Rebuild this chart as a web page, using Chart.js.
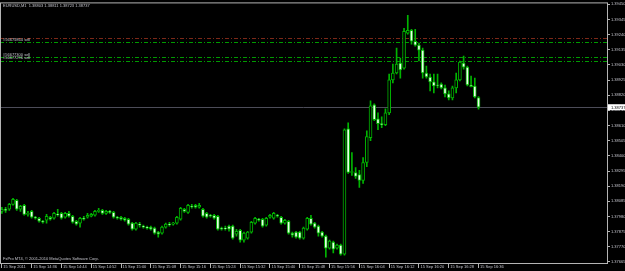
<!DOCTYPE html>
<html>
<head>
<meta charset="utf-8">
<script src="https://cdn.jsdelivr.net/npm/chart.js@4.4.0/dist/chart.umd.min.js"></script>
<style>
html, body { margin: 0; padding: 0; background: #000; }
canvas { display: block; }
</style>
</head>
<body>
<canvas id="chart-ctx" width="625" height="271"></canvas>
<script>
const symbolTitle = "EURUSD,M1  1.38803 1.38811 1.38723 1.38737";
const copyrightText = "FxPro MT4, \u00a9 2001-2010 MetaQuotes Software Corp.";

// one label every 8 bars (M1)
const timeLabels = [
    "15 Sep 2011", "15 Sep 14:36", "15 Sep 14:44", "15 Sep 14:52", "15 Sep 15:00",
    "15 Sep 15:08", "15 Sep 15:16", "15 Sep 15:24", "15 Sep 15:32", "15 Sep 15:40",
    "15 Sep 15:48", "15 Sep 15:56", "15 Sep 16:04", "15 Sep 16:12", "15 Sep 16:20",
    "15 Sep 16:28", "15 Sep 16:36"
];
const slotCount = 163;

const opens = [
    1.38016, 1.38030, 1.38030, 1.38064, 1.38092, 1.38030, 1.38058, 1.37995, 1.38016, 1.37975,
    1.37968, 1.37947, 1.37954, 1.37975, 1.37968, 1.37995, 1.38002, 1.37975, 1.38002, 1.37982,
    1.37947, 1.37934, 1.37968, 1.37975, 1.37982, 1.37989, 1.38016, 1.38023, 1.38002, 1.38016,
    1.38009, 1.37975, 1.37975, 1.37968, 1.37961, 1.37934, 1.37892, 1.37927, 1.37913, 1.37906,
    1.37906, 1.37899, 1.37872, 1.37865, 1.37906, 1.37927, 1.37927, 1.37934, 1.37961, 1.38030,
    1.38009, 1.38051, 1.38058, 1.38044, 1.38030, 1.38002, 1.37989, 1.37989, 1.37982, 1.37899,
    1.37899, 1.37913, 1.37913, 1.37858, 1.37885, 1.37816, 1.37830, 1.37872, 1.37934, 1.37961,
    1.37961, 1.37920, 1.37975, 1.37968, 1.37989, 1.37975, 1.37934, 1.37947, 1.37865, 1.37872,
    1.37872, 1.37830, 1.37892, 1.37968, 1.37934, 1.37913, 1.37872, 1.37844, 1.37761, 1.37803,
    1.37761, 1.37782, 1.37720, 1.38588, 1.38285, 1.38285, 1.38271, 1.38230, 1.38354, 1.38526,
    1.38753, 1.38657, 1.38623, 1.38616, 1.38698, 1.38926, 1.38974, 1.39043, 1.39008, 1.39250,
    1.39270, 1.39194, 1.39167, 1.39132, 1.38974, 1.38946, 1.38912, 1.38891, 1.38898, 1.38871,
    1.38829, 1.38802, 1.38871, 1.38926, 1.39043, 1.39015, 1.38891, 1.38884, 1.38803
];
const highs = [
    1.38044, 1.38044, 1.38071, 1.38106, 1.38099, 1.38058, 1.38064, 1.38016, 1.38023, 1.37982,
    1.37975, 1.37954, 1.37995, 1.37982, 1.38009, 1.38030, 1.38009, 1.38009, 1.38016, 1.37989,
    1.37954, 1.37975, 1.37982, 1.38002, 1.38002, 1.38023, 1.38037, 1.38030, 1.38023, 1.38023,
    1.38016, 1.37982, 1.37982, 1.37975, 1.37968, 1.37940, 1.37940, 1.37940, 1.37920, 1.37913,
    1.37913, 1.37906, 1.37878, 1.37913, 1.37934, 1.37940, 1.37940, 1.37982, 1.38044, 1.38037,
    1.38064, 1.38064, 1.38064, 1.38071, 1.38037, 1.38009, 1.37995, 1.37995, 1.37989, 1.37906,
    1.37913, 1.37920, 1.37920, 1.37892, 1.37892, 1.37872, 1.37878, 1.37947, 1.37975, 1.37968,
    1.37968, 1.37975, 1.37995, 1.38009, 1.37995, 1.37982, 1.37961, 1.37954, 1.37872, 1.37878,
    1.37878, 1.37906, 1.37975, 1.37989, 1.37940, 1.37920, 1.37878, 1.37851, 1.37816, 1.37810,
    1.37789, 1.37789, 1.38588, 1.38629, 1.38423, 1.38319, 1.38299, 1.38388, 1.38574, 1.38781,
    1.38760, 1.38698, 1.38671, 1.38726, 1.38967, 1.39036, 1.39146, 1.39077, 1.39284, 1.39374,
    1.39277, 1.39277, 1.39181, 1.39146, 1.39022, 1.38967, 1.38967, 1.38967, 1.38905, 1.38891,
    1.38850, 1.38884, 1.38974, 1.39057, 1.39091, 1.39022, 1.38953, 1.38939, 1.38811
];
const lows = [
    1.38002, 1.38009, 1.38023, 1.38058, 1.38023, 1.38016, 1.37989, 1.37982, 1.37968, 1.37961,
    1.37940, 1.37934, 1.37934, 1.37954, 1.37961, 1.37982, 1.37961, 1.37968, 1.37975, 1.37934,
    1.37920, 1.37906, 1.37954, 1.37968, 1.37978, 1.37982, 1.38009, 1.37995, 1.37995, 1.38002,
    1.37968, 1.37961, 1.37954, 1.37947, 1.37920, 1.37885, 1.37885, 1.37906, 1.37899, 1.37892,
    1.37885, 1.37858, 1.37837, 1.37858, 1.37899, 1.37913, 1.37920, 1.37927, 1.37954, 1.38009,
    1.38002, 1.38037, 1.38037, 1.38037, 1.37975, 1.37968, 1.37975, 1.37961, 1.37885, 1.37885,
    1.37885, 1.37878, 1.37823, 1.37844, 1.37803, 1.37803, 1.37823, 1.37865, 1.37927, 1.37947,
    1.37906, 1.37913, 1.37968, 1.37961, 1.37975, 1.37927, 1.37927, 1.37858, 1.37837, 1.37830,
    1.37823, 1.37823, 1.37885, 1.37920, 1.37899, 1.37844, 1.37837, 1.37699, 1.37754, 1.37727,
    1.37754, 1.37713, 1.37713, 1.38278, 1.38264, 1.38244, 1.38182, 1.38209, 1.38326, 1.38505,
    1.38643, 1.38581, 1.38595, 1.38609, 1.38685, 1.38905, 1.38967, 1.38939, 1.39001, 1.39243,
    1.39174, 1.39160, 1.39057, 1.38939, 1.38939, 1.38850, 1.38836, 1.38871, 1.38864, 1.38809,
    1.38788, 1.38788, 1.38836, 1.38919, 1.39001, 1.38884, 1.38877, 1.38802, 1.38723
];
const closes = [
    1.38030, 1.38023, 1.38064, 1.38099, 1.38030, 1.38051, 1.37995, 1.38002, 1.37975, 1.37968,
    1.37947, 1.37940, 1.37982, 1.37961, 1.38002, 1.37992, 1.37968, 1.38002, 1.37982, 1.37940,
    1.37927, 1.37968, 1.37961, 1.37989, 1.37995, 1.38016, 1.38023, 1.38002, 1.38016, 1.38009,
    1.37975, 1.37968, 1.37961, 1.37954, 1.37927, 1.37892, 1.37934, 1.37920, 1.37906, 1.37899,
    1.37892, 1.37865, 1.37858, 1.37906, 1.37927, 1.37924, 1.37934, 1.37975, 1.38037, 1.38016,
    1.38058, 1.38048, 1.38044, 1.38058, 1.37982, 1.37975, 1.37982, 1.37968, 1.37892, 1.37892,
    1.37896, 1.37892, 1.37830, 1.37878, 1.37816, 1.37865, 1.37872, 1.37940, 1.37968, 1.37954,
    1.37913, 1.37968, 1.37989, 1.38002, 1.37982, 1.37934, 1.37954, 1.37865, 1.37851, 1.37837,
    1.37830, 1.37899, 1.37968, 1.37927, 1.37906, 1.37865, 1.37844, 1.37761, 1.37810, 1.37754,
    1.37782, 1.37720, 1.38581, 1.38285, 1.38292, 1.38257, 1.38230, 1.38354, 1.38533, 1.38747,
    1.38650, 1.38623, 1.38616, 1.38698, 1.38926, 1.38974, 1.39036, 1.38995, 1.39263, 1.39270,
    1.39194, 1.39167, 1.39132, 1.38974, 1.38946, 1.38912, 1.38884, 1.38888, 1.38871, 1.38829,
    1.38802, 1.38871, 1.38926, 1.39050, 1.39015, 1.38891, 1.38880, 1.38809, 1.38737
];

const priceTicks = [
    1.37665, 1.37770, 1.37875, 1.37980, 1.38085, 1.38190, 1.38295, 1.38400, 1.38505,
    1.38610, 1.38715, 1.38820, 1.38925, 1.39030, 1.39135, 1.39240, 1.39345, 1.39450
];
const bidPrice = 1.38737;
const stopLevels = [1.39217];
const orderLevels = [1.39188, 1.39084, 1.39060];
const orderNames = ["#56675864 sell", "#56677300 sell", "#56677296 sell"];

const candleGreen = "#00b400";
const bearFill = "#e8ffe8";
const textGray = "#c4c4cc";
const frameGray = "#b4b4b4";
const tinyFont = { family: "Liberation Sans", size: 4 };
const tinyCss = "4px 'Liberation Sans'";

const mtOverlay = {
    id: "mtOverlay",
    beforeDraw(chart) {
        const c = chart.ctx;
        c.save();
        c.fillStyle = "#000000";
        c.fillRect(0, 0, chart.width, chart.height);
        c.restore();
    },
    beforeDatasetsDraw(chart) {
        const c = chart.ctx;
        const area = chart.chartArea;
        const y = chart.scales.y;
        c.save();
        c.lineWidth = 1;
        c.setLineDash([4, 2, 1, 2]);
        stopLevels.forEach((v) => {
            const py = Math.round(y.getPixelForValue(v)) + 0.5;
            c.strokeStyle = "#7c2818";
            c.beginPath(); c.moveTo(area.left, py); c.lineTo(area.right, py); c.stroke();
        });
        orderLevels.forEach((v) => {
            const py = Math.round(y.getPixelForValue(v)) + 0.5;
            c.strokeStyle = "#009a00";
            c.beginPath(); c.moveTo(area.left, py); c.lineTo(area.right, py); c.stroke();
        });
        c.setLineDash([]);
        const by = Math.round(y.getPixelForValue(bidPrice)) + 0.5;
        c.strokeStyle = "#4c4c58";
        c.beginPath(); c.moveTo(area.left, by); c.lineTo(area.right, by); c.stroke();

        c.font = tinyCss;
        c.fillStyle = textGray;
        c.textBaseline = "bottom";
        orderLevels.forEach((v, k) => {
            const py = y.getPixelForValue(v);
            c.fillText(orderNames[k], 3, py - 0.5);
        });
        c.restore();
    },
    afterDraw(chart) {
        const c = chart.ctx;
        const area = chart.chartArea;
        const y = chart.scales.y;
        c.save();
        c.strokeStyle = frameGray;
        c.lineWidth = 1;
        c.strokeRect(area.left + 0.5, area.top - 0.5, area.right - area.left, area.bottom - area.top + 1);

        c.font = tinyCss;
        c.fillStyle = textGray;
        c.textBaseline = "middle";
        c.fillText(symbolTitle, 3, 5.5);
        c.fillText(copyrightText, 3, 258.5);

        const by = y.getPixelForValue(bidPrice);
        c.fillStyle = "#ffffff";
        c.fillRect(area.right + 1, by - 3, 20, 6);
        c.fillStyle = "#000000";
        c.fillText(bidPrice.toFixed(5), area.right + 4, by + 0.3);
        c.restore();
    }
};

const wickData = lows.map((low, i) => [low, highs[i]]);
const bodyData = opens.map((open, i) => [open, closes[i]]);
const slots = Array.from({ length: slotCount }, (_, i) => i);

const ctx = document.getElementById("chart-ctx");

new Chart(ctx, {
    type: "bar",
    data: {
        labels: slots,
        datasets: [
            {
                label: "body",
                data: bodyData,
                backgroundColor: (c) => closes[c.dataIndex] >= opens[c.dataIndex] ? "#000000" : bearFill,
                borderColor: candleGreen,
                borderWidth: 1,
                borderSkipped: false,
                barThickness: 3,
                grouped: false,
                order: 1,
            },
            {
                label: "wick",
                data: wickData,
                backgroundColor: candleGreen,
                borderWidth: 0,
                barThickness: 1,
                grouped: false,
                order: 2,
            },
        ]
    },
    options: {
        responsive: false,
        animation: false,
        devicePixelRatio: 1,
        layout: { padding: { top: 2, left: 0, right: 0, bottom: 0 } },
        plugins: {
            legend: { display: false },
            tooltip: { enabled: false },
            title: { display: false },
        },
        scales: {
            x: {
                type: "category",
                offset: true,
                grid: {
                    display: true,
                    drawOnChartArea: false,
                    drawTicks: true,
                    tickLength: 5,
                    color: frameGray,
                    offset: false,
                },
                border: { display: false },
                ticks: {
                    autoSkip: false,
                    maxRotation: 0,
                    minRotation: 0,
                    align: "start",
                    labelOffset: 1.5,
                    padding: -4,
                    color: textGray,
                    font: tinyFont,
                    callback: (value) => timeLabels[value / 8],
                },
                afterBuildTicks: (scale) => {
                    scale.ticks = timeLabels.map((t, k) => ({ value: k * 8 }));
                },
                afterFit: (scale) => { scale.height = 8; },
            },
            y: {
                position: "right",
                min: 1.37658,
                max: 1.39456,
                grid: {
                    drawOnChartArea: false,
                    drawTicks: true,
                    tickLength: 3,
                    color: frameGray,
                },
                border: { display: false },
                ticks: {
                    padding: 1,
                    color: textGray,
                    font: tinyFont,
                    callback: (value) => Number(value).toFixed(5),
                },
                afterBuildTicks: (scale) => {
                    scale.ticks = priceTicks.map((v) => ({ value: v }));
                },
                afterFit: (scale) => { scale.width = 18; },
            }
        }
    },
    plugins: [mtOverlay],
});
</script>
</body>
</html>
